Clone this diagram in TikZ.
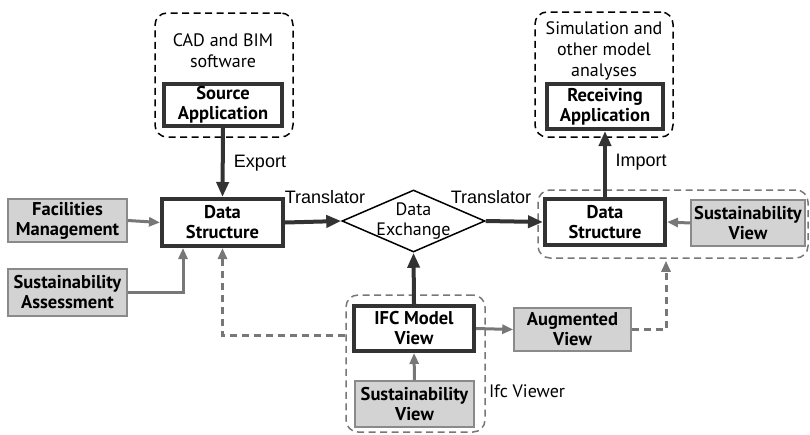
\documentclass[tikz,border=0pt]{standalone}
\usepackage{fontspec}
\setmainfont{PT Sans}
\newfontfamily\lab{Liberation Sans}
\usetikzlibrary{arrows.meta,shapes.geometric}
\definecolor{dk}{HTML}{333333}
\definecolor{gr}{HTML}{777777}
\definecolor{gfill}{HTML}{D3D3D3}
\definecolor{gbord}{HTML}{8A8A8A}
\tikzset{
  mainbox/.style={draw=dk, line width=4pt, fill=white, align=center, inner sep=0pt,
    font=\bfseries\fontsize{18.5}{20}\selectfont},
  graybox/.style={draw=gbord, line width=1.6pt, fill=gfill, align=center, inner sep=0pt,
    font=\bfseries\fontsize{18.5}{20}\selectfont},
  blackgrp/.style={draw=black, dash pattern=on 7pt off 4.5pt, line width=1.5pt, rounded corners=12pt, inner sep=0pt},
  graygrp/.style={draw=gr, dash pattern=on 7pt off 4.5pt, line width=1.5pt, rounded corners=12pt, inner sep=0pt},
  darrow/.style={draw=dk, line width=4pt, -{Triangle[length=15pt,width=12pt]}},
  garrow/.style={draw=gr, line width=3pt, -{Triangle[length=11pt,width=9pt]}},
  gdarrow/.style={draw=gr, line width=3pt, dash pattern=on 7pt off 5pt, -{Triangle[length=11pt,width=9pt]}},
  lbl/.style={font=\lab\fontsize{18}{20}\selectfont, inner sep=0pt},
  plain/.style={font=\fontsize{18}{21}\selectfont, align=center, inner sep=0pt},
}
\begin{document}
\begin{tikzpicture}[x=1pt,y=-1pt]
\useasboundingbox (0,0) rectangle (810,434);
% groups
\node[blackgrp, minimum width=138pt, minimum height=124pt] (srcgrp) at (224,75) {};
\node[blackgrp, minimum width=138pt, minimum height=125pt] (ragrp) at (604,74.5) {};
\node[graygrp, minimum width=270pt, minimum height=68pt] (dsgrp) at (673,224) {};
\node[graygrp, minimum width=139pt, minimum height=137pt] (ifcgrp) at (415.5,363.5) {};
% texts in groups
\node[plain] (cad) at (223,51) {CAD and BIM\\software};
\node[plain] (sim) at (604,51) {Simulation and\\other model\\analyses};
% boxes
\node[mainbox, minimum width=118pt, minimum height=42pt] (src) at (223,105) {Source\\Application};
\node[mainbox, minimum width=116pt, minimum height=45pt] (ra) at (605,106.5) {Receiving\\Application};
\node[mainbox, minimum width=121pt, minimum height=47pt] (ds1) at (222.5,222.5) {Data\\Structure};
\node[mainbox, minimum width=120pt, minimum height=46pt] (ds2) at (605,222) {Data\\Structure};
\node[mainbox, minimum width=120pt, minimum height=45pt] (ifc) at (414,328.5) {IFC Model\\View};
\node[graybox, minimum width=119pt, minimum height=43pt] (fm) at (67.5,220.5) {Facilities\\Management};
\node[graybox, minimum width=119pt, minimum height=47pt] (sa) at (67.5,292.5) {Sustainability\\Assessment};
\node[graybox, minimum width=114pt, minimum height=46pt] (sv2) at (748,223) {Sustainability\\View};
\node[graybox, minimum width=119pt, minimum height=46pt] (sv3) at (414.5,404) {Sustainability\\View};
\node[graybox, minimum width=117pt, minimum height=43pt] (av) at (572.5,329.5) {Augmented\\View};
\node[diamond, draw=black, line width=1.5pt, fill=white, inner sep=0pt, minimum width=143pt, minimum height=62pt,
  label={[plain, font=\fontsize{18}{20}\selectfont]center:Data\\Exchange}] (dex) at (413.5,221) {};
% labels
\node[lbl] (exp) at (260,163) {Export};
\node[lbl] (imp) at (641,162) {Import};
\node[lbl] (tr1) at (325,197) {Translator};
\node[lbl] (tr2) at (491,197) {Translator};
\node[plain] (ifcv) at (527,391) {Ifc Viewer};
% connectors
\draw[darrow] (src.south) -- (ds1.north);
\draw[darrow] (ds2.north) -- (ra.south);
\draw[darrow] (ds1.east) -- (dex.west);
\draw[darrow] (dex.east) -- (ds2.west);
\draw[darrow] (ifc.north) -- (dex.south);
\draw[garrow] (fm.east) -- (ds1.west);
\draw[garrow] (sa.east) -| ([xshift=-39.5pt]ds1.south);
\draw[garrow] (sv2.west) -- (ds2.east);
\draw[garrow] (sv3.north) -- (ifc.south);
\draw[garrow] (ifc.east) -- (av.west);
\draw[gdarrow] ([yshift=28.5pt]ifcgrp.west) -| (ds1.south);
\draw[gdarrow] (av.east) -| ([xshift=-7pt,yshift=-2pt]dsgrp.south);
\end{tikzpicture}
\end{document}
